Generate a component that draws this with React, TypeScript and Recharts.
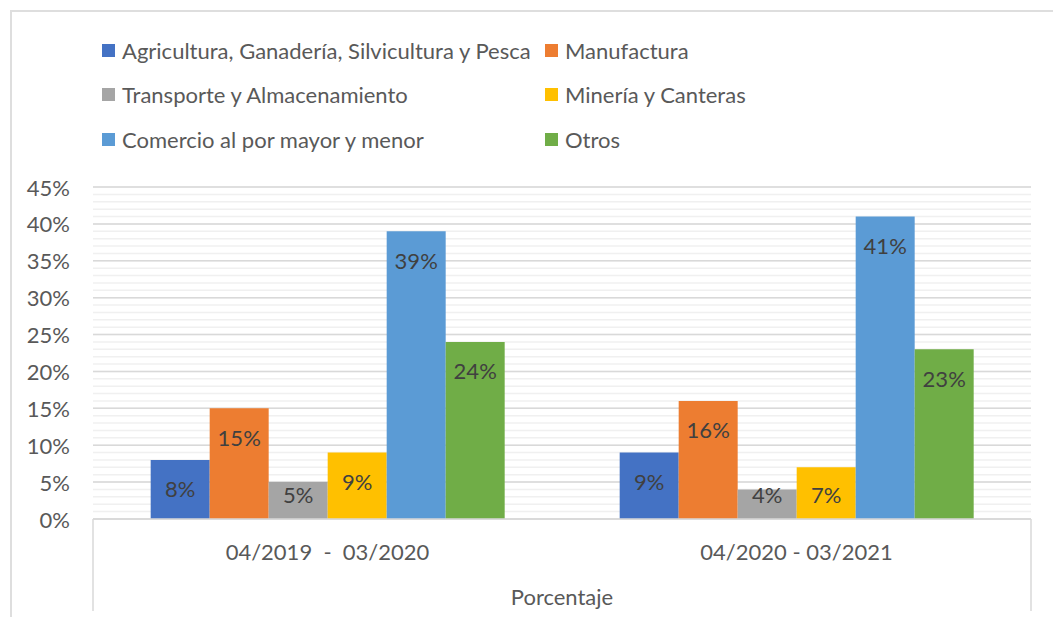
import { BarChart, Bar, XAxis, YAxis, CartesianGrid, LabelList } from "recharts";

const PERIODS = ["04/2019\u00a0\u00a0-\u00a0\u00a003/2020", "04/2020 - 03/2021"];

const SERIES = [
  { key: "agricultura", name: "Agricultura, Ganadería, Silvicultura y Pesca", color: "#4472C4" },
  { key: "manufactura", name: "Manufactura", color: "#ED7D31" },
  { key: "transporte", name: "Transporte y Almacenamiento", color: "#A5A5A5" },
  { key: "mineria", name: "Minería y Canteras", color: "#FFC000" },
  { key: "comercio", name: "Comercio al por mayor y menor", color: "#5B9BD5" },
  { key: "otros", name: "Otros", color: "#70AD47" },
];

const AGRICULTURA = [8, 9];
const MANUFACTURA = [15, 16];
const TRANSPORTE = [5, 4];
const MINERIA = [9, 7];
const COMERCIO = [39, 41];
const OTROS = [24, 23];

const Y_TICKS = [0, 5, 10, 15, 20, 25, 30, 35, 40, 45];
// minor gridlines every 1%
const MINOR_TICKS = Array.from({ length: 46 }, (_, i) => i);

const data = PERIODS.map((period, i) => ({
  period,
  agricultura: AGRICULTURA[i],
  manufactura: MANUFACTURA[i],
  transporte: TRANSPORTE[i],
  mineria: MINERIA[i],
  comercio: COMERCIO[i],
  otros: OTROS[i],
}));

const FONT = "Lato, 'Open Sans', sans-serif";
const TEXT = "#595959";
const FS = 22;

const renderLabel = (props: any) => {
  const { x, y, width, height, value } = props;
  const cy = Math.min(y + 29, y + height - 25);
  return (
    <text
      x={x + width / 2}
      y={cy}
      textAnchor="middle"
      dominantBaseline="central"
      fill="#404040"
      fontSize={FS}
      fontFamily={FONT}
    >
      {value}%
    </text>
  );
};

const YTick = (props: any) => {
  const { x, y, payload } = props;
  return (
    <text x={x - 15} y={y} textAnchor="end" dominantBaseline="central" fill={TEXT} fontSize={FS} fontFamily={FONT}>
      {payload.value}%
    </text>
  );
};

const XTick = (props: any) => {
  const { x, y, payload } = props;
  return (
    <text x={x} y={y + 24} textAnchor="middle" dominantBaseline="central" fill={TEXT} fontSize={FS} fontFamily={FONT}>
      {payload.value}
    </text>
  );
};

const AxisBox = (props: any) => {
  const { viewBox } = props;
  const { x, y, width, height } = viewBox;
  return (
    <g>
      <line x1={x} y1={y} x2={x} y2={y + height} stroke="#d9d9d9" strokeWidth={1.5} />
      <line x1={x + width} y1={y} x2={x + width} y2={y + height} stroke="#d9d9d9" strokeWidth={1.5} />
      <text
        x={x + width / 2}
        y={y + height - 15}
        textAnchor="middle"
        dominantBaseline="central"
        fill={TEXT}
        fontSize={FS}
        fontFamily={FONT}
      >
        Porcentaje
      </text>
    </g>
  );
};

function ChartLegend() {
  const rows = [
    [SERIES[0], SERIES[1]],
    [SERIES[2], SERIES[3]],
    [SERIES[4], SERIES[5]],
  ];
  return (
    <div style={{ position: "absolute", left: 102, top: 28, fontFamily: FONT, fontSize: FS, color: TEXT }}>
      {rows.map((row, r) => (
        <div key={r} style={{ display: "flex", height: 44.5, alignItems: "center" }}>
          {row.map((s, c) => (
            <div key={s.key} style={{ display: "flex", alignItems: "center", width: c === 0 ? 443 : 300 }}>
              <div style={{ width: 13, height: 13, background: s.color, marginRight: 7 }} />
              <span style={{ whiteSpace: "nowrap" }}>{s.name}</span>
            </div>
          ))}
        </div>
      ))}
    </div>
  );
}

export default function App() {
  return (
    <div style={{ position: "absolute", left: 0, top: 0, width: 1053, height: 617, overflow: "hidden", background: "#fff" }}>
      <div
        style={{
          position: "absolute",
          left: 10,
          top: 10,
          width: 1100,
          height: 700,
          border: "2px solid #dedede",
        }}
      />
      <ChartLegend />
      <div style={{ position: "absolute", left: 0, top: 0 }}>
        <BarChart
          width={1053}
          height={617}
          data={data}
          margin={{ top: 187, right: 22, bottom: 6, left: 13 }}
          barCategoryGap="12.3%"
          barGap={0}
        >
          <CartesianGrid vertical={false} horizontalValues={MINOR_TICKS} stroke="#f0f0f0" strokeWidth={1.5} />
          <CartesianGrid vertical={false} horizontalValues={Y_TICKS} stroke="#d9d9d9" strokeWidth={1.5} />
          <XAxis
            dataKey="period"
            height={92}
            tickLine={false}
            axisLine={{ stroke: "#d9d9d9", strokeWidth: 1.5 }}
            tick={<XTick />}
            label={<AxisBox />}
          />
          <YAxis
            width={80}
            domain={[0, 45]}
            ticks={Y_TICKS}
            interval={0}
            tickLine={false}
            axisLine={false}
            tick={<YTick />}
          />
          {SERIES.map((s) => (
            <Bar key={s.key} dataKey={s.key} name={s.name} fill={s.color} isAnimationActive={false}>
              <LabelList dataKey={s.key} content={renderLabel} />
            </Bar>
          ))}
        </BarChart>
      </div>
    </div>
  );
}
